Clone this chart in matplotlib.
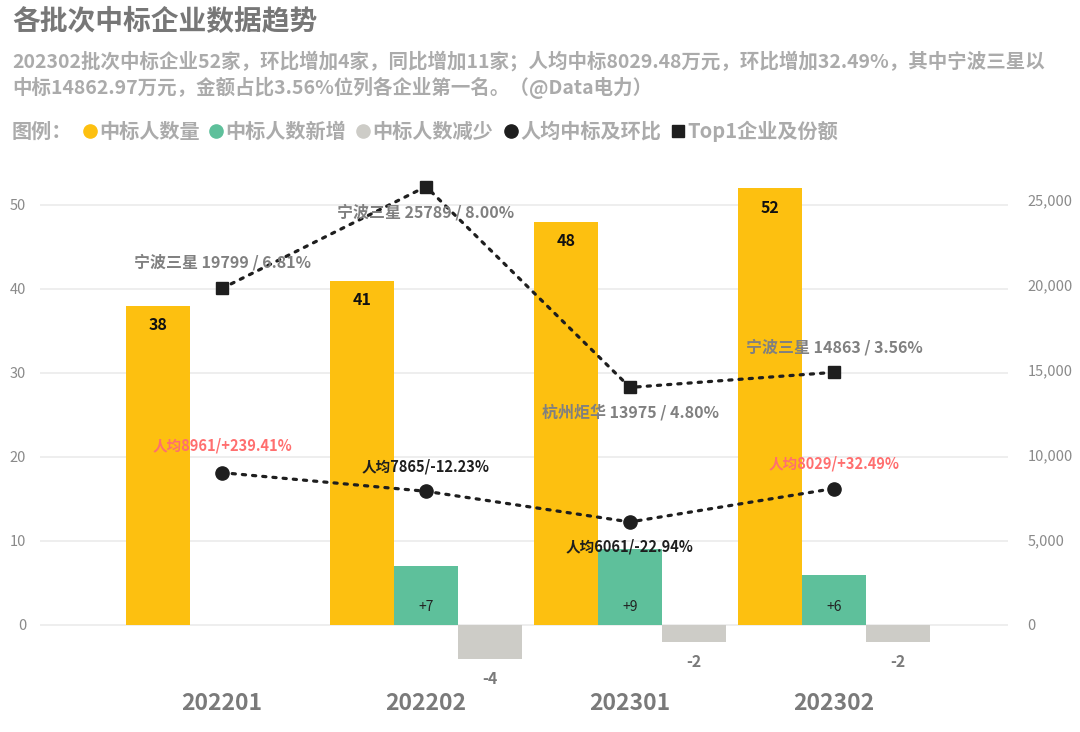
import matplotlib
matplotlib.use("Agg")
import matplotlib.pyplot as plt
import numpy as np
from matplotlib.lines import Line2D

plt.rcParams['font.family'] = ['Noto Sans CJK SC', 'DejaVu Sans']

# ---- data ----
categories = ["202201", "202202", "202301", "202302"]
count = [38, 41, 48, 52]
increase = [None, 7, 9, 6]
decrease = [None, -4, -2, -2]
per_capita = [8961, 7865, 6061, 8029]
per_capita_chg = ["+239.41%", "-12.23%", "-22.94%", "+32.49%"]
top1_name = ["宁波三星", "宁波三星", "杭州炬华", "宁波三星"]
top1_amount = [19799, 25789, 13975, 14863]
top1_share = ["6.81%", "8.00%", "4.80%", "3.56%"]
left_ticks = [0, 10, 20, 30, 40, 50]
right_ticks = [0, 5000, 10000, 15000, 20000, 25000]

title = "各批次中标企业数据趋势"
subtitle = ("202302批次中标企业52家，环比增加4家，同比增加11家；人均中标8029.48万元，环比增加32.49%，其中宁波三星以\n"
            "中标14862.97万元，金额占比3.56%位列各企业第一名。（@Data电力）")

YELLOW = "#FDC010"
GREEN = "#5EC09B"
GREY_BAR = "#CDCCC7"
DARK = "#1E1E1E"
RED = "#FF6F6F"
TXT = "#808080"

W, H = 1080, 732
fig = plt.figure(figsize=(W / 100, H / 100), dpi=100)
fig.patch.set_facecolor("white")
PT = 72 / 100  # points per pixel

# axes placement (pixel based)
left_px, right_px = 40, 1008
ylo, yhi = -6, 55
px_per_unit = 8.4
zero_px = 625
bottom_px = zero_px - ylo * px_per_unit
top_px = zero_px - yhi * px_per_unit
ax = fig.add_axes([left_px / W, 1 - bottom_px / H, (right_px - left_px) / W, (bottom_px - top_px) / H])
ax2 = ax.twinx()

x = np.arange(len(categories))
bw = 64 / 204
ax.set_xlim((left_px - 222) / 204, (right_px - 222) / 204)
ax.set_ylim(ylo, yhi)
r_px = 425 / 25000
ax2.set_ylim(-(bottom_px - zero_px) / r_px, (zero_px - top_px) / r_px)

for a in (ax, ax2):
    for s in a.spines.values():
        s.set_visible(False)

ax.set_yticks(left_ticks)
ax.set_yticklabels([str(t) for t in left_ticks], color="#8a8a8a", fontsize=10.5)
ax.tick_params(axis="y", length=0, pad=10)
ax.set_xticks([])
ax.grid(axis="y", color="#ebebeb", linewidth=1.2)
ax.set_axisbelow(True)

ax2.set_yticks(right_ticks)
ax2.set_yticklabels([f"{t:,}" for t in right_ticks], color="#8a8a8a", fontsize=10.5)
ax2.tick_params(axis="y", length=0, pad=14)

# bars
ax.bar(x - bw, count, width=bw, color=YELLOW, zorder=2)
for xi, v in zip(x, count):
    ax.text(xi - bw, v - 2.3, str(v), ha="center", va="center", fontsize=11.5,
            fontweight="bold", color="#111111", zorder=5)

inc_x = [xi for xi, v in zip(x, increase) if v is not None]
inc_v = [v for v in increase if v is not None]
ax.bar(inc_x, inc_v, width=bw, color=GREEN, zorder=2)
for xi, v in zip(inc_x, inc_v):
    ax.text(xi, 2.1, f"+{v}", ha="center", va="center", fontsize=10, color="#222222", zorder=5)

dec_x = [xi for xi, v in zip(x, decrease) if v is not None]
dec_v = [v for v in decrease if v is not None]
ax.bar(np.array(dec_x) + bw, dec_v, width=bw, color=GREY_BAR, zorder=2)
for xi, v in zip(dec_x, dec_v):
    ax.text(xi + bw, v - 2.4, f"{v}", ha="center", va="center", fontsize=11.5,
            fontweight="bold", color="#7a7a7a", zorder=5)

# lines on secondary axis
ax2.plot(x, top1_amount, linestyle=(0, (1, 2.2)), color=DARK, linewidth=2.3,
         marker="s", markersize=8.5, zorder=4, dash_capstyle="round")
ax2.plot(x, per_capita, linestyle=(0, (1, 2.2)), color=DARK, linewidth=2.3,
         marker="o", markersize=9.5, zorder=4, dash_capstyle="round")

# top1 labels (pixel offsets: negative = above)
top_off = [-26, 26, 25, -25]
for xi, n, amt, sh, off in zip(x, top1_name, top1_amount, top1_share, top_off):
    ax2.annotate(f"{n} {amt} / {sh}", (xi, amt), xytext=(0, -off * PT), textcoords="offset points",
                 ha="center", va="center", fontsize=11.5, fontweight="bold", color=TXT, zorder=6)

pc_off = [-27, -25, 25, -25]
pc_col = [RED, DARK, DARK, RED]
for xi, v, c, off, col in zip(x, per_capita, per_capita_chg, pc_off, pc_col):
    ax2.annotate(f"人均{v}/{c}", (xi, v), xytext=(0, -off * PT), textcoords="offset points",
                 ha="center", va="center", fontsize=10.5, fontweight="bold", color=col, zorder=6)

# category labels
for xi, c in zip(x, categories):
    ax.text(xi, -9.4, c, ha="center", va="center", fontsize=16.5, fontweight="bold",
            color="#7a7a7a", clip_on=False)

# title, subtitle
fig.text(12 / W, 1 - 22 / H, title, ha="left", va="center", fontsize=20, fontweight="bold", color="#777777")
fig.text(12 / W, 1 - 75 / H, subtitle, ha="left", va="center", fontsize=14, fontweight="bold",
         color="#ababab", linespacing=1.36)

# legend row
ly = 1 - 131 / H
fig.text(12 / W, ly, "图例：", ha="left", va="center", fontsize=14.5, fontweight="bold", color="#ababab")
legend_items = [
    ("o", YELLOW, "中标人数量", 90),
    ("o", GREEN, "中标人数新增", 216),
    ("o", GREY_BAR, "中标人数减少", 363),
    ("o", DARK, "人均中标及环比", 511),
    ("s", DARK, "Top1企业及份额", 678),
]
for mk, col, lab, px in legend_items:
    fig.add_artist(Line2D([px / W], [ly], marker=mk, color=col, markersize=9.5 if mk == "o" else 8.5,
                          linestyle="none", transform=fig.transFigure))
    fig.text((px + 9) / W, ly, lab, ha="left", va="center", fontsize=14.5, fontweight="bold", color="#ababab")

fig.savefig("out.png", dpi=100, facecolor="white")
